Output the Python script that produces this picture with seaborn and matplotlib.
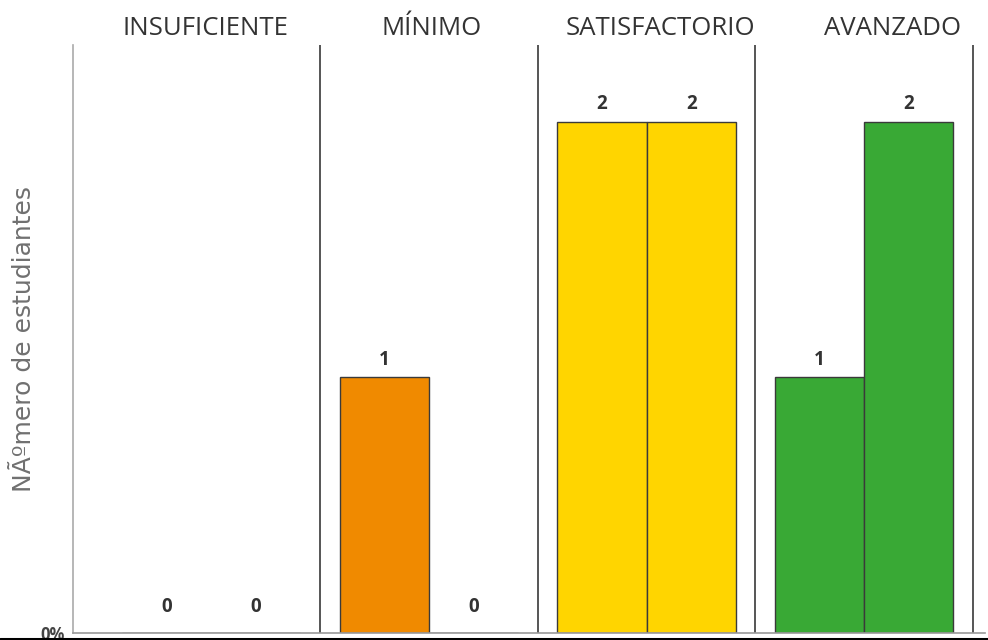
import matplotlib
matplotlib.use("Agg")
import matplotlib.pyplot as plt
import seaborn as sns
import pandas as pd
from matplotlib.lines import Line2D
from matplotlib.transforms import ScaledTranslation

categories = ["INSUFICIENTE", "MÍNIMO", "SATISFACTORIO", "AVANZADO"]
series_names = ["Serie 1", "Serie 2"]
series1 = [0, 1, 2, 1]
series2 = [0, 0, 2, 2]
cat_colors = ["#E3261B", "#F08A00", "#FFD500", "#39A935"]
ylabel = "NÃºmero de estudiantes"
ytick_label = "0%"

df = pd.DataFrame({
    "cat": categories * 2,
    "serie": [series_names[0]] * 4 + [series_names[1]] * 4,
    "val": series1 + series2,
})

sns.set_theme(style="white")
plt.rcParams["font.family"] = ["Open Sans", "DejaVu Sans"]

fig = plt.figure(figsize=(9.88, 6.40), dpi=100)
ax = fig.add_axes([73 / 988, 7 / 640, (985 - 73) / 988, (633 - 45) / 640])

sns.barplot(data=df, x="cat", y="val", hue="serie", order=categories,
            hue_order=series_names, width=0.82, ax=ax, legend=False,
            edgecolor="#3a3a3a", linewidth=1.0, saturation=1)

# recolor by category (patches ordered hue-major)
n = len(categories)
for k, p in enumerate(ax.patches[:2 * n]):
    p.set_facecolor(cat_colors[k % n])

for p in ax.patches[:2 * n]:
    h = p.get_height()
    ax.annotate(f"{int(round(h))}", (p.get_x() + p.get_width() / 2, h),
                xytext=(0, 5.5 if h > 0 else 11.5), textcoords="offset points",
                ha="center", va="bottom", fontsize=13.5, fontweight="bold",
                color="#333333", family=["Liberation Sans Narrow", "Open Sans", "DejaVu Sans"])

ax.set_xlim(-0.635, 3.555)
ax.set_ylim(0, 2.3)

for i in range(n):
    ax.axvline(i + 0.5, color="#555555", lw=1.4, zorder=0)

ax.xaxis.tick_top()
ax.set_xticks(range(n))
ax.set_xticklabels(categories, fontsize=18.5, color="#333333")
ax.tick_params(axis="x", length=0, pad=3)
ax.set_xlabel("")
label_shift_px = [-6, 3, 14, 28]
for lbl, dx in zip(ax.get_xticklabels(), label_shift_px):
    lbl.set_transform(lbl.get_transform() + ScaledTranslation(dx / 100, 0, fig.dpi_scale_trans))

ax.set_yticks([0])
ax.set_yticklabels([ytick_label], fontsize=12, fontweight="bold", color="#444444")
ax.tick_params(axis="y", length=0, pad=6)
ax.set_ylabel(ylabel, fontsize=18, color="#707070", family=["DejaVu Sans"])
ax.yaxis.set_label_coords(-0.041, 0.5)

for s in ["top", "right"]:
    ax.spines[s].set_visible(False)
ax.spines["left"].set_color("#aaaaaa")
ax.spines["left"].set_linewidth(1.2)
ax.spines["bottom"].set_color("#999999")
ax.spines["bottom"].set_linewidth(1.2)

fig.add_artist(Line2D([0, 1], [1.5 / 640, 1.5 / 640], transform=fig.transFigure,
                      color="black", lw=2.2))

fig.savefig("out.png", dpi=100)
